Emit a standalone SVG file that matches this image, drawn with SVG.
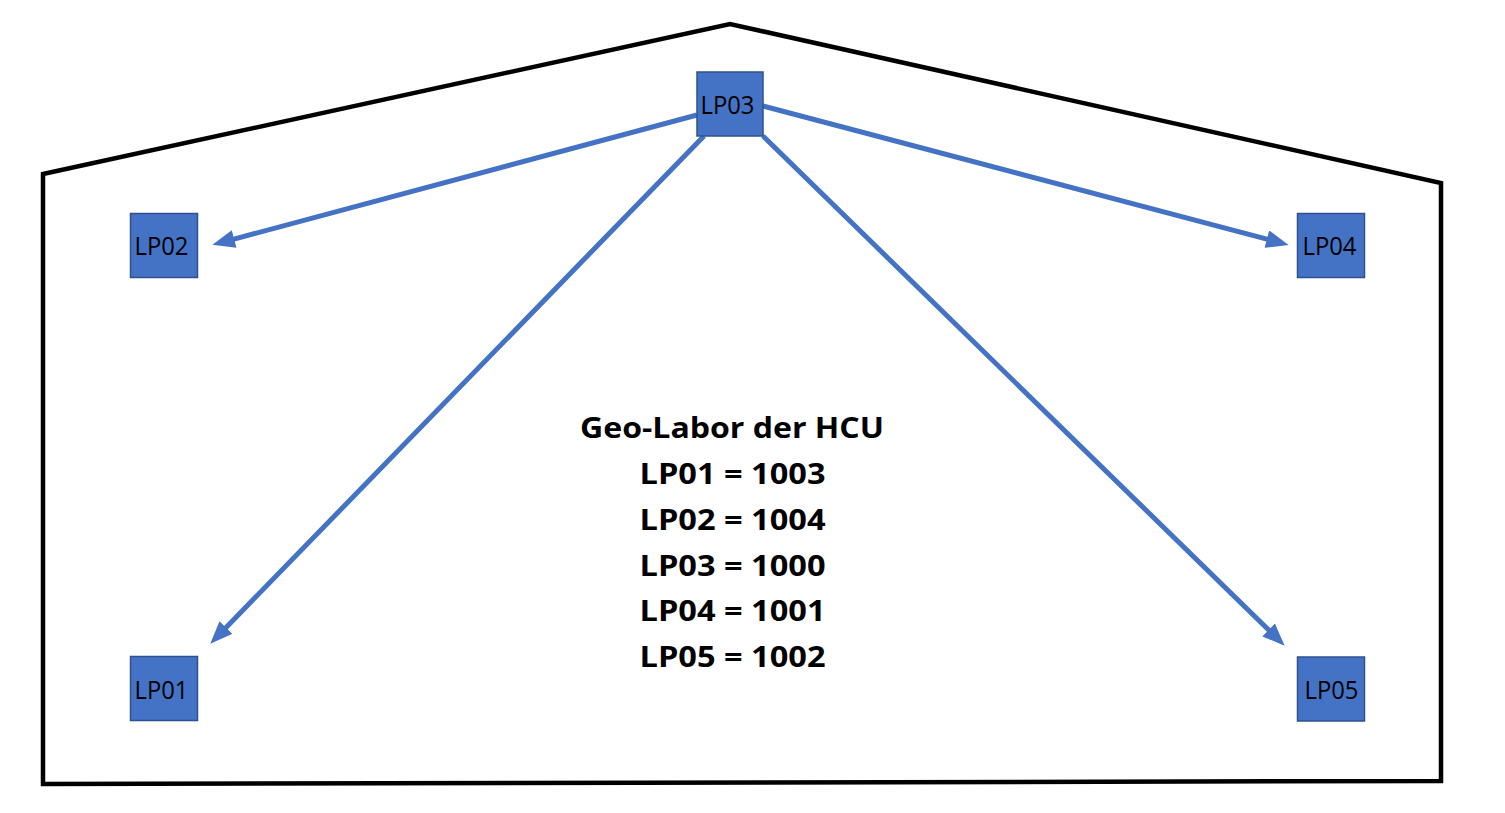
<svg xmlns="http://www.w3.org/2000/svg" width="1505" height="813" viewBox="0 0 1505 813">
<style>
.outline{fill:none;stroke:#000;stroke-width:4.5;stroke-linejoin:miter}
.box{fill:#4472C4;stroke:#2F528F;stroke-width:1.5}
.lbl{font-family:"Open Sans","Liberation Sans",Arial,sans-serif;font-size:26px;fill:#000;text-anchor:middle}
.conn{stroke:#4472C4;stroke-width:5;fill:none;marker-end:url(#ah)}
.info{font-family:"Open Sans","Liberation Sans",Arial,sans-serif;font-weight:bold;font-size:29px;fill:#000;text-anchor:middle}
</style>
<defs>
<marker id="ah" viewBox="0 0 10 8" markerWidth="4.6" markerHeight="3.6" refX="1.3" refY="4" orient="auto" markerUnits="strokeWidth">
<path d="M0,0 L10,4 L0,8 z" fill="#4472C4"/>
</marker>
</defs>
<rect width="1505" height="813" fill="#fff"/>
<polygon class="outline" points="43,174 730,24 1441,183 1441,781 43,784"/>
<g id="connectors">
<line class="conn" x1="697" y1="115" x2="231.3" y2="239.8"/>
<line class="conn" x1="763" y1="106" x2="1269.7" y2="239.9"/>
<line class="conn" x1="704" y1="136" x2="223.9" y2="629.7"/>
<line class="conn" x1="763" y1="136" x2="1270.7" y2="632"/>
</g>
<g id="LP03"><rect class="box" x="697" y="72" width="66" height="64"/><text class="lbl" x="727.5" y="114" textLength="54" lengthAdjust="spacingAndGlyphs">LP03</text></g>
<g id="LP02"><rect class="box" x="130.5" y="213.5" width="67" height="64"/><text class="lbl" x="161.5" y="255" textLength="54" lengthAdjust="spacingAndGlyphs">LP02</text></g>
<g id="LP04"><rect class="box" x="1297.5" y="213.5" width="67" height="64"/><text class="lbl" x="1329.5" y="255" textLength="54" lengthAdjust="spacingAndGlyphs">LP04</text></g>
<g id="LP01"><rect class="box" x="130.5" y="656.5" width="67" height="64"/><text class="lbl" x="161.5" y="699" textLength="54" lengthAdjust="spacingAndGlyphs">LP01</text></g>
<g id="LP05"><rect class="box" x="1297.5" y="657" width="67" height="64"/><text class="lbl" x="1331.5" y="699" textLength="54" lengthAdjust="spacingAndGlyphs">LP05</text></g>
<g id="info">
<text class="info" x="732" y="438" textLength="304" lengthAdjust="spacingAndGlyphs">Geo-Labor der HCU</text>
<text class="info" x="732.5" y="484" textLength="186" lengthAdjust="spacingAndGlyphs">LP01 = 1003</text>
<text class="info" x="732.5" y="529.5" textLength="186" lengthAdjust="spacingAndGlyphs">LP02 = 1004</text>
<text class="info" x="732.5" y="575.5" textLength="186" lengthAdjust="spacingAndGlyphs">LP03 = 1000</text>
<text class="info" x="732.5" y="621" textLength="186" lengthAdjust="spacingAndGlyphs">LP04 = 1001</text>
<text class="info" x="732.5" y="667" textLength="186" lengthAdjust="spacingAndGlyphs">LP05 = 1002</text>
</g>
</svg>
